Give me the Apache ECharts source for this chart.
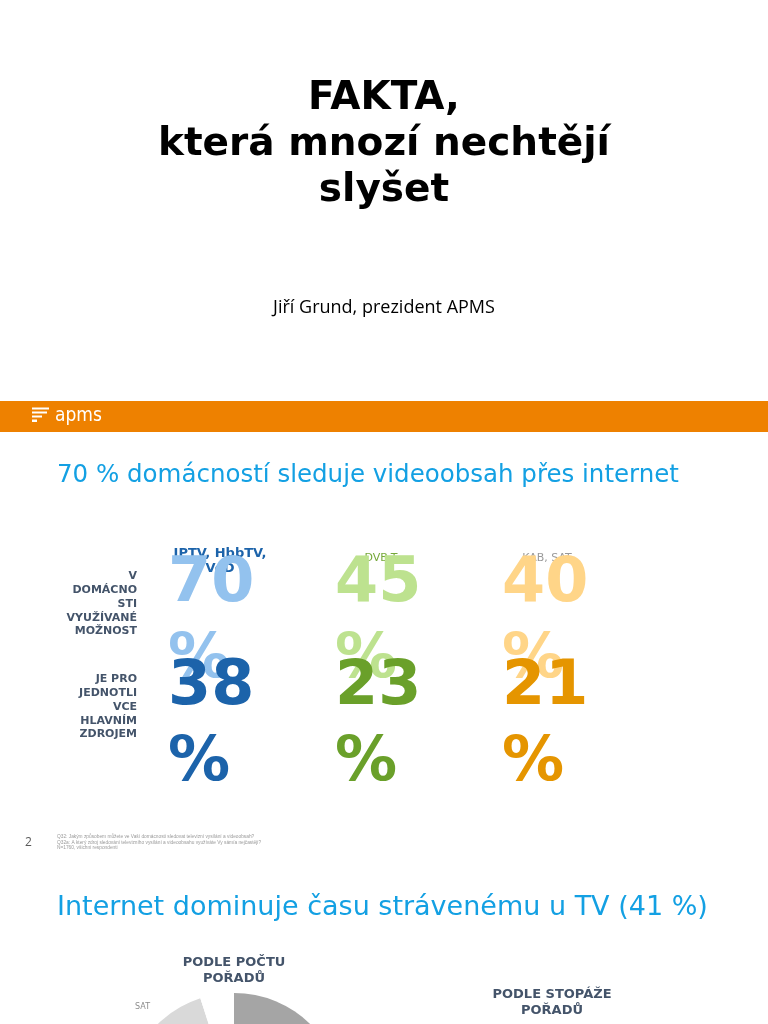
<!DOCTYPE html>
<html>
<head>
<meta charset="utf-8">
<script src="https://cdn.jsdelivr.net/npm/echarts@6/dist/echarts.min.js"></script>
<style>
  html, body { margin: 0; padding: 0; background: #fff; }
  #main { width: 768px; height: 1024px; }
</style>
</head>
<body>
<div id="main"></div>
<script>
// slide 2: zdroje sledovani
const columns = ['IPTV, HbbTV,\nVoD', 'DVB-T', 'KAB, SAT'];
const rowLabels = ['V\nDOMÁCNO\nSTI\nVYUŽÍVANÉ\nMOŽNOST', 'JE PRO\nJEDNOTLI\nVCE\nHLAVNÍM\nZDROJEM'];
const usedAtHome = [70, 45, 40];
const mainSource = [38, 23, 21];

// slide 3: podle poctu poradu
const sources = ['Internet', 'DVB-T', 'KAB', 'SAT', 'Ostatní'];
const timeShare = [41, 33, 8, 13, 5];

const lightColors = ['#93c2ee', '#bde28f', '#ffd588'];
const darkColors = ['#1c63aa', '#6aa02a', '#e59500'];
const pieColors = ['#a5a5a5', '#7f7f7f', '#bfbfbf', '#d9d9d9', '#ffffff'];
const headerStyles = [
  { color: '#1c63aa', fontWeight: 'bold', fontSize: 13, lineHeight: 15, padding: [0, 0, 0, 18] },
  { color: '#76a83a', fontSize: 11, lineHeight: 14, padding: [0, 0, 11, 6] },
  { color: '#9a9a9a', fontSize: 11, lineHeight: 14, padding: [0, 0, 11, 4] }
];

const slate = '#44546a';
const blue = '#13a0e3';
const font = 'DejaVu Sans';

const numberData = [];
[usedAtHome, mainSource].forEach((vals, r) => {
  vals.forEach((v, c) => {
    numberData.push({
      value: [c, r, v],
      label: { color: (r === 0 ? lightColors : darkColors)[c] }
    });
  });
});

const chart = echarts.init(document.getElementById('main'), null, { renderer: 'canvas' });

const option = {
  backgroundColor: '#fff',
  animation: false,
  textStyle: { fontFamily: font },
  grid: { left: 127.5, top: 571.5, width: 501, height: 206 },
  xAxis: {
    type: 'category',
    position: 'top',
    data: columns.map((c, i) => ({ value: c, textStyle: headerStyles[i] })),
    axisLine: { show: false },
    axisTick: { show: false },
    splitLine: { show: false },
    axisLabel: { margin: -5, fontFamily: font, interval: 0 }
  },
  yAxis: {
    type: 'category',
    inverse: true,
    data: rowLabels,
    axisLine: { show: false },
    axisTick: { show: false },
    splitLine: { show: false },
    axisLabel: {
      margin: -9.5,
      align: 'right',
      formatter: v => v.split('\n').map(l => '{t|' + l + '}').join('\n') + '\n{g| }',
      rich: {
        t: { fontFamily: font, fontWeight: 'bold', fontSize: 11, lineHeight: 13.8, color: slate, align: 'right' },
        g: { fontSize: 2, lineHeight: 38 }
      }
    }
  },
  series: [
    {
      type: 'scatter',
      symbolSize: 0,
      silent: true,
      z: 5,
      itemStyle: { opacity: 1 },
      data: numberData,
      label: {
        show: true,
        position: 'inside',
        align: 'left',
        verticalAlign: 'middle',
        offset: [-43, 0],
        fontFamily: font,
        fontSize: 62,
        fontWeight: 'bold',
        lineHeight: 76,
        formatter: p => p.value[2] + '\n%'
      }
    },
    {
      type: 'pie',
      center: [234, 1102],
      radius: 109,
      startAngle: 90,
      clockwise: true,
      silent: true,
      avoidLabelOverlap: false,
      itemStyle: { borderWidth: 0 },
      label: {
        show: true,
        position: 'outside',
        fontFamily: font,
        fontSize: 8,
        color: '#8c8c8c',
        distanceToLabelLine: 0
      },
      labelLine: { show: false, length: 18, length2: 0 },
      data: sources.map((n, i) => ({
        name: n,
        value: timeShare[i],
        itemStyle: { color: pieColors[i] },
        label: n === 'Ostatní' ? { show: false } : undefined
      }))
    }
  ],
  graphic: [
    // titulni slide
    {
      type: 'text', x: 384, y: 145,
      style: {
        text: 'FAKTA,\nkterá mnozí nechtějí\nslyšet',
        font: 'bold 39px "DejaVu Sans"', fill: '#000',
        align: 'center', verticalAlign: 'middle', lineHeight: 46
      }
    },
    {
      type: 'text', x: 384, y: 308,
      style: { text: 'Jiří Grund, prezident APMS', font: '18px "Open Sans"', fill: '#000', align: 'center', verticalAlign: 'middle' }
    },
    // oranzova lista s logem
    { type: 'rect', shape: { x: 0, y: 401, width: 768, height: 31 }, style: { fill: '#ee8100' } },
    { type: 'rect', shape: { x: 32, y: 407.5, width: 17, height: 2 }, style: { fill: '#fff' } },
    { type: 'rect', shape: { x: 32, y: 411.5, width: 15, height: 2 }, style: { fill: '#fff' } },
    { type: 'rect', shape: { x: 32, y: 415.5, width: 10, height: 2 }, style: { fill: '#fff' } },
    { type: 'rect', shape: { x: 32, y: 419.5, width: 5, height: 2.5 }, style: { fill: '#fff' } },
    {
      type: 'text', x: 55, y: 416,
      style: { text: 'apms', font: '19px "DejaVu Sans Condensed"', fill: '#fff', verticalAlign: 'middle' }
    },
    {
      type: 'text', x: 57, y: 476,
      style: { text: '70 % domácností sleduje videoobsah přes internet', font: '24.5px "DejaVu Sans"', fill: blue, verticalAlign: 'middle' }
    },
    {
      type: 'text', x: 25, y: 843,
      style: { text: '2', font: '12px "Open Sans"', fill: '#595959', verticalAlign: 'middle' }
    },
    {
      type: 'text', x: 57, y: 842.5,
      style: {
        text: 'Q32: Jakým způsobem můžete ve Vaší domácnosti sledovat televizní vysílání a videoobsah?\n' +
          'Q32a: A který zdroj sledování televizního vysílání a videoobsahu využíváte Vy sám/a nejčastěji?\n' +
          'N=1760, všichni respondenti',
        font: '4.8px "Liberation Sans"', fill: '#9a9a9a', lineHeight: 5.6, verticalAlign: 'middle'
      }
    },
    // slide 3
    {
      type: 'text', x: 57, y: 908,
      style: { text: 'Internet dominuje času strávenému u TV (41 %)', font: '27px "DejaVu Sans"', fill: blue, verticalAlign: 'middle' }
    },
    {
      type: 'text', x: 234, y: 971,
      style: {
        text: 'PODLE POČTU\nPOŘADŮ', font: 'bold 13px "DejaVu Sans"', fill: slate,
        align: 'center', verticalAlign: 'middle', lineHeight: 16
      }
    },
    {
      type: 'text', x: 552, y: 1003,
      style: {
        text: 'PODLE STOPÁŽE\nPOŘADŮ', font: 'bold 13px "DejaVu Sans"', fill: slate,
        align: 'center', verticalAlign: 'middle', lineHeight: 16
      }
    }
  ]
};

chart.setOption(option);
</script>
</body>
</html>
